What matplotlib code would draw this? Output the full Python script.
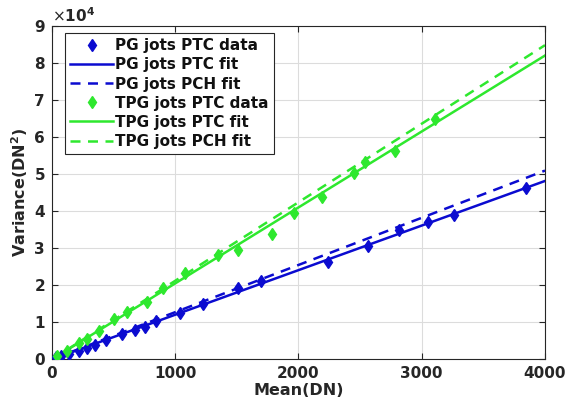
import matplotlib
matplotlib.use("Agg")
import matplotlib.pyplot as plt
from matplotlib.ticker import FuncFormatter, MultipleLocator

plt.rcParams['font.family'] = ['DejaVu Sans']

# PG jots PTC data
pg_mean = [31, 71, 139, 219, 287, 351, 436, 565, 673, 754, 840, 1035, 1227, 1510, 1699,
           2241, 2560, 2816, 3054, 3264, 3842]
pg_var = [600, 900, 1400, 2300, 3000, 3900, 5200, 6800, 7900, 8800, 10400, 12500, 14900,
          19200, 21200, 26200, 30700, 34900, 37100, 39100, 46400]
# TPG jots PTC data
tpg_mean = [40, 120, 219, 287, 381, 503, 611, 774, 903, 1083, 1348, 1507, 1785, 1960,
            2190, 2454, 2541, 2784, 3108]
tpg_var = [800, 2300, 4300, 5600, 7700, 10800, 12900, 15400, 19400, 23200, 28200, 29500,
           33800, 39500, 43900, 50400, 53400, 56400, 64900]

# fit lines (endpoints)
fit_x = [0, 4000]
pg_ptc_fit = [0, 48200]
pg_pch_fit = [0, 51000]
tpg_ptc_fit = [0, 82100]
tpg_pch_fit = [0, 84900]

blue = '#0b0bd0'
green = '#2ee82e'

fig = plt.figure(figsize=(5.67, 4.09), dpi=100)
ax = fig.add_axes([0.0917, 0.1215, 0.8695, 0.8142])

ax.plot(pg_mean, pg_var, 'd', color=blue, ms=6, label='PG jots PTC data', zorder=3)
ax.plot(fit_x, pg_ptc_fit, '-', color=blue, lw=1.8, label='PG jots PTC fit')
ax.plot(fit_x, pg_pch_fit, '--', color=blue, lw=1.8, dashes=(4, 3), label='PG jots PCH fit')
ax.plot(tpg_mean, tpg_var, 'd', color=green, ms=6, label='TPG jots PTC data', zorder=3)
ax.plot(fit_x, tpg_ptc_fit, '-', color=green, lw=1.8, label='TPG jots PTC fit')
ax.plot(fit_x, tpg_pch_fit, '--', color=green, lw=1.8, dashes=(4, 3), label='TPG jots PCH fit')

ax.set_xlim(0, 4000)
ax.set_ylim(0, 90000)
ax.xaxis.set_major_locator(MultipleLocator(1000))
ax.yaxis.set_major_locator(MultipleLocator(10000))
ax.yaxis.set_major_formatter(FuncFormatter(lambda v, p: f"{v/1e4:g}"))
ax.grid(True, color='#dcdcdc', lw=0.8)
ax.set_axisbelow(True)
ax.tick_params(direction='in', top=True, right=True, labelsize=11, colors='#262626',
               length=4, pad=5)
for lab in ax.get_xticklabels() + ax.get_yticklabels():
    lab.set_fontweight('bold')
for sp in ax.spines.values():
    sp.set_color('#262626')
    sp.set_linewidth(0.8)

ax.text(0.0, 1.005, r'$\times\mathbf{10^4}$', transform=ax.transAxes, fontsize=11,
        color='#262626', ha='left', va='bottom')

ax.set_xlabel('Mean(DN)', fontsize=11.5, fontweight='bold', color='#262626', labelpad=1)
ax.set_ylabel(r'Variance(DN$^\mathbf{2}$)', fontsize=11.5, fontweight='bold', color='#262626',
              labelpad=3)

leg = ax.legend(loc='upper left', bbox_to_anchor=(0.026, 0.98), prop={'weight': 'bold', 'size': 11},
                handlelength=2.8, handletextpad=0.15, labelspacing=0.27, borderpad=0.35,
                fancybox=False, framealpha=1, edgecolor='#262626', borderaxespad=0)
leg.get_frame().set_linewidth(0.8)
for t in leg.get_texts():
    t.set_color('#111111')

fig.savefig('out.png', dpi=100)
